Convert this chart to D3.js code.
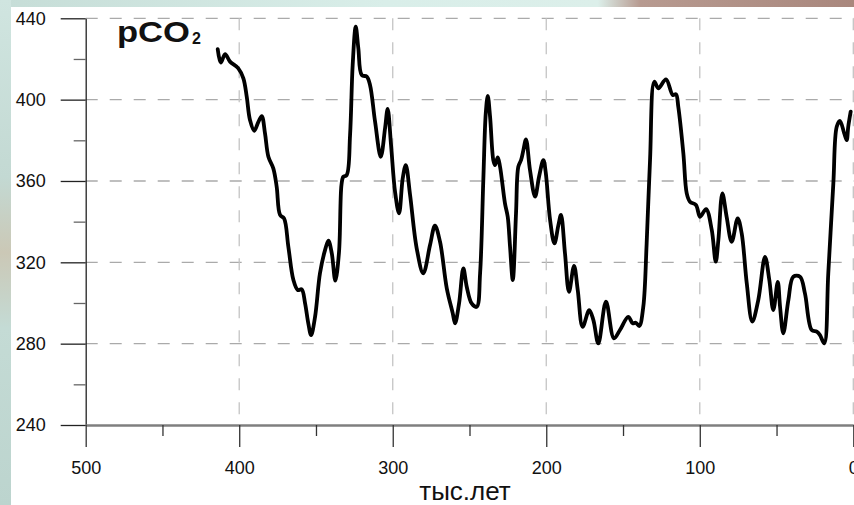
<!DOCTYPE html>
<html>
<head>
<meta charset="utf-8">
<script src="https://cdn.jsdelivr.net/npm/d3@7"></script>
<style>
  body { margin: 0; }
  svg { display: block; font-family: "Liberation Sans", Arial, sans-serif; }
</style>
</head>
<body>
<div class="chart"></div>
<script>
// Data: age (thousand years ago) and pCO2
var ages = [414.0, 412.0, 409.2, 406.0, 400.6, 397.3, 395.1, 393.0, 390.2, 387.5,
  385.3, 383.2, 381.0, 377.8, 375.6, 373.4, 370.8, 368.0, 364.7, 361.9,
  359.3, 357.1, 355.0, 353.2, 350.6, 347.4, 344.1, 341.9, 339.7, 337.4,
  335.0, 333.4, 332.2, 330.0, 327.8, 326.1, 324.1, 322.4, 320.2, 316.9,
  314.8, 311.5, 307.8, 305.0, 303.3, 301.1, 298.5, 295.9, 293.5, 291.5,
  288.7, 284.4, 280.1, 275.7, 272.5, 269.2, 264.8, 260.9, 259.4, 256.8,
  254.0, 251.8, 248.6, 245.3, 243.1, 241.0, 239.4, 238.1, 236.6, 234.5,
  233.4, 231.6, 230.1, 226.9, 225.1, 223.6, 221.8, 219.7, 218.2, 216.4,
  214.9, 213.2, 210.6, 207.3, 204.7, 201.9, 200.4, 197.5, 194.7, 192.1,
  190.4, 187.8, 185.2, 181.9, 179.5, 176.3, 172.0, 169.3, 166.1, 161.1,
  155.9, 152.0, 146.6, 143.7, 141.7, 139.4, 136.8, 134.6, 132.4, 129.6,
  127.0, 122.0, 117.6, 115.5, 114.0, 110.7, 108.5, 106.4, 102.5, 99.8,
  95.9, 92.2, 89.6, 87.9, 85.3, 82.5, 79.2, 75.3, 72.7, 69.4,
  65.8, 61.9, 57.5, 54.7, 52.1, 49.2, 47.7, 45.6, 42.3, 39.1,
  34.7, 31.5, 27.1, 23.8, 21.7, 18.9, 16.3, 13.0, 10.8, 8.7,
  5.9, 4.3, 3.3, 1.7];
var pco2 = [424.8, 418.2, 422.4, 418.7, 415.4, 410.5, 401.4, 390.0, 384.7, 389.1,
  391.9, 383.4, 371.9, 366.2, 357.2, 343.3, 341.6, 327.7, 311.3, 306.4,
  306.7, 299.8, 290.0, 284.2, 293.2, 314.6, 326.0, 330.6, 324.4, 311.0,
  325.0, 358.0, 362.1, 362.9, 382.6, 417.0, 435.9, 425.2, 412.1, 411.3,
  407.2, 389.1, 371.9, 385.9, 395.4, 377.7, 354.7, 344.1, 361.3, 367.8,
  353.1, 326.9, 314.6, 328.5, 338.0, 330.1, 307.2, 294.9, 290.0, 299.8,
  317.0, 308.0, 299.8, 298.1, 314.6, 360.5, 393.3, 401.8, 391.6, 370.3,
  367.8, 371.6, 367.0, 349.0, 342.4, 327.7, 311.3, 344.1, 367.0, 370.3,
  375.2, 380.5, 365.4, 352.3, 362.1, 370.3, 364.5, 340.8, 329.3, 338.3,
  343.3, 324.4, 305.5, 318.3, 306.4, 288.3, 296.5, 291.6, 280.1, 300.6,
  282.6, 286.7, 293.2, 290.0, 290.3, 288.7, 298.1, 329.3, 370.3, 408.8,
  405.6, 410.0, 402.3, 402.6, 396.5, 373.6, 353.9, 349.8, 348.2, 342.4,
  346.2, 335.9, 320.3, 330.9, 353.9, 342.4, 330.1, 341.6, 334.2, 309.7,
  290.8, 301.4, 322.7, 311.3, 296.5, 310.4, 298.1, 285.1, 301.4, 312.9,
  312.9, 304.7, 286.7, 285.9, 284.2, 280.1, 314.6, 358.8, 386.7, 389.6,
  383.4, 380.1, 386.7, 394.1];

var xTicks = [500, 400, 300, 200, 100, 0];
var xMinor = [450, 350, 250, 150, 50];
var yTicks = [240, 280, 320, 360, 400, 440];
var yMinor = [260, 300, 340, 380, 420];
var xTitle = "тыс.лет";

var svgWidth = 854;
var svgHeight = 505;

var svg = d3.select(".chart")
  .append("svg")
  .attr("width", svgWidth)
  .attr("height", svgHeight);

// Textured backdrop, roughly
var defs = svg.append("defs");
var bgGrad = defs.append("linearGradient").attr("id", "bgGrad");
[["0", "#c6ddd7"], ["0.45", "#d9eee9"], ["0.7", "#dcefea"], ["0.75", "#b79a90"], ["1", "#a9877d"]]
  .forEach(s => bgGrad.append("stop").attr("offset", s[0]).attr("stop-color", s[1]));
var sideGrad = defs.append("linearGradient").attr("id", "sideGrad")
  .attr("x1", 0).attr("y1", 0).attr("x2", 0).attr("y2", 1);
[["0", "#d0e5e0"], ["0.35", "#c3d9d3"], ["0.5", "#cbc8b6"], ["0.65", "#c4dbd5"], ["1", "#bcd4ce"]]
  .forEach(s => sideGrad.append("stop").attr("offset", s[0]).attr("stop-color", s[1]));

svg.append("rect").attr("width", svgWidth).attr("height", svgHeight).attr("fill", "url(#bgGrad)");
svg.append("rect").attr("width", 11).attr("height", svgHeight).attr("fill", "url(#sideGrad)");
svg.append("rect").attr("x", 11).attr("y", 7)
  .attr("width", svgWidth - 11).attr("height", svgHeight - 7).attr("fill", "#fff");

// Scales
var x = d3.scaleLinear().domain([500, 0]).range([85.7, 853.3]);
var y = d3.scaleLinear().domain([240, 440]).range([425, 18.3]);

// Grid
var grid = svg.append("g").attr("stroke-dasharray", "12,12").attr("fill", "none");
grid.selectAll(".hgrid")
  .data(yTicks.filter(d => d !== 240))
  .enter().append("line")
  .attr("x1", x(500)).attr("x2", svgWidth)
  .attr("y1", d => y(d)).attr("y2", d => y(d))
  .attr("stroke", "#aaaaaa").attr("stroke-width", 1.3);
grid.selectAll(".vgrid")
  .data(xTicks.filter(d => d !== 500))
  .enter().append("line")
  .attr("x1", d => x(d)).attr("x2", d => x(d))
  .attr("y1", y(440)).attr("y2", y(240))
  .attr("stroke", "#c4c4c4").attr("stroke-width", 1.3);

// Y axis
var yAxis = svg.append("g")
  .attr("transform", `translate(${x(500)},0)`)
  .call(d3.axisLeft(y).tickValues(yTicks).tickSize(25).tickSizeOuter(0).tickPadding(15));
yAxis.select(".domain").attr("stroke", "#222").attr("stroke-width", 1.3);
yAxis.selectAll(".tick line").attr("stroke", "#222").attr("stroke-width", 1.3);
yAxis.selectAll("text").attr("font-size", 18).attr("fill", "#111")
  .attr("font-family", "Liberation Sans, Arial, sans-serif");

svg.append("g")
  .attr("transform", `translate(${x(500)},0)`)
  .call(d3.axisLeft(y).tickValues(yMinor).tickSize(12).tickFormat(""))
  .call(g => g.select(".domain").remove())
  .selectAll(".tick line").attr("stroke", "#666").attr("stroke-width", 1.3);

// X axis
var xAxis = svg.append("g")
  .attr("transform", `translate(0,${y(240)})`)
  .call(d3.axisBottom(x).tickValues(xTicks).tickSize(22).tickSizeOuter(0).tickPadding(14));
xAxis.select(".domain").attr("stroke", "#7f7f7f").attr("stroke-width", 2.6);
xAxis.selectAll(".tick line").attr("stroke", "#333").attr("stroke-width", 1.3);
xAxis.selectAll("text").attr("font-size", 18).attr("fill", "#111")
  .attr("font-family", "Liberation Sans, Arial, sans-serif");

svg.append("g")
  .attr("transform", `translate(0,${y(240)})`)
  .call(d3.axisBottom(x).tickValues(xMinor).tickSize(11).tickFormat(""))
  .call(g => g.select(".domain").remove())
  .selectAll(".tick line").attr("stroke", "#333").attr("stroke-width", 1.3);

// Axis title
svg.append("text")
  .attr("x", 465)
  .attr("y", 500)
  .attr("text-anchor", "middle")
  .attr("font-size", 26)
  .attr("fill", "#111")
  .text(xTitle);

// pCO2 label
svg.append("text")
  .attr("x", 117)
  .attr("y", 42)
  .attr("font-size", 30)
  .attr("font-weight", "bold")
  .attr("fill", "#111")
  .attr("textLength", 73)
  .attr("lengthAdjust", "spacingAndGlyphs")
  .text("pCO");
svg.append("text")
  .attr("x", 192)
  .attr("y", 43.5)
  .attr("font-size", 16)
  .attr("font-weight", "bold")
  .attr("fill", "#111")
  .text("2");

// Curve
var series = ages.map((a, i) => ({age: a, value: pco2[i]}));
var line = d3.line()
  .x(d => x(d.age))
  .y(d => y(d.value))
  .curve(d3.curveCatmullRom.alpha(0.5));

svg.append("path")
  .datum(series)
  .attr("fill", "none")
  .attr("stroke", "#000")
  .attr("stroke-width", 3.8)
  .attr("stroke-linejoin", "round")
  .attr("stroke-linecap", "round")
  .attr("d", line);
</script>
</body>
</html>
